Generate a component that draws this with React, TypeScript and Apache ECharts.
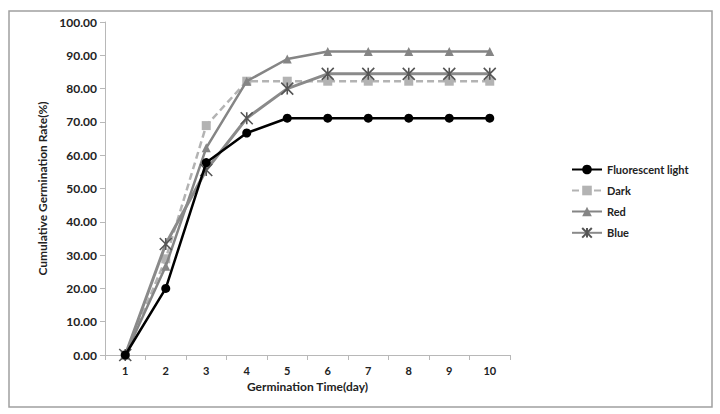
import React, { useEffect, useRef } from "react";
import * as echarts from "echarts";

const days = ["1", "2", "3", "4", "5", "6", "7", "8", "9", "10"];
const fluorescent = [0, 20.0, 57.78, 66.67, 71.11, 71.11, 71.11, 71.11, 71.11, 71.11];
const dark = [0, 28.89, 68.89, 82.22, 82.22, 82.22, 82.22, 82.22, 82.22, 82.22];
const red = [0, 26.67, 62.22, 82.22, 88.89, 91.11, 91.11, 91.11, 91.11, 91.11];
const blue = [0, 33.33, 55.56, 71.11, 80.0, 84.44, 84.44, 84.44, 84.44, 84.44];

const FONT = "Lato, 'Open Sans', sans-serif";
const asterisk = "path://M0,0L10,10M10,0L0,10M5,0L5,10";

export default function App() {
  const ref = useRef<HTMLDivElement>(null);
  useEffect(() => {
    if (!ref.current) return;
    const chart = echarts.init(ref.current, undefined, { renderer: "svg" });
    chart.setOption({
      animation: false,
      backgroundColor: "#ffffff",
      graphic: [
        {
          type: "rect",
          shape: { x: 9, y: 11, width: 703, height: 396 },
          style: { fill: "none", stroke: "#a0a0a0", lineWidth: 1.5 },
          z: -1,
        },
      ],
      grid: { left: 105, right: 210, top: 22, bottom: 59 },
      legend: {
        orient: "vertical",
        left: 566,
        top: 159,
        itemGap: 10,
        itemWidth: 30,
        itemHeight: 12,
        textStyle: { fontFamily: FONT, fontWeight: "bold", fontSize: 11, color: "#222" },
        data: ["Fluorescent light", "Dark", "Red", "Blue"],
      },
      xAxis: {
        type: "category",
        data: days,
        boundaryGap: true,
        name: "Germination Time(day)",
        nameLocation: "middle",
        nameGap: 25,
        nameTextStyle: { fontFamily: FONT, fontWeight: "bold", fontSize: 12, color: "#222" },
        axisLine: { lineStyle: { color: "#b8b8b8", width: 1 } },
        axisTick: { show: true, inside: false, length: 5, lineStyle: { color: "#b8b8b8" } },
        axisLabel: { fontFamily: FONT, fontWeight: "bold", fontSize: 11, color: "#222", margin: 10 },
        splitLine: { show: false },
      },
      yAxis: {
        type: "value",
        min: 0,
        max: 100,
        interval: 10,
        name: "Cumulative Germination Rate(%)",
        nameLocation: "middle",
        nameGap: 47,
        nameTextStyle: { fontFamily: FONT, fontWeight: "bold", fontSize: 12, color: "#222" },
        axisLine: { show: true, lineStyle: { color: "#b8b8b8", width: 1 } },
        axisTick: { show: true, length: 5, lineStyle: { color: "#b8b8b8" } },
        axisLabel: {
          fontFamily: FONT,
          fontWeight: "bold",
          fontSize: 12,
          color: "#222",
          margin: 8,
          formatter: (v: number) => v.toFixed(2),
        },
        splitLine: { show: false },
      },
      series: [
        {
          name: "Dark",
          type: "line",
          data: dark,
          symbol: "rect",
          symbolSize: 9,
          itemStyle: { color: "#b3b3b3" },
          lineStyle: { color: "#b3b3b3", width: 2.5, type: [7, 4] },
          z: 2,
        },
        {
          name: "Red",
          type: "line",
          data: red,
          symbol: "triangle",
          symbolSize: 9,
          itemStyle: { color: "#858585" },
          lineStyle: { color: "#858585", width: 2.5 },
          z: 3,
        },
        {
          name: "Blue",
          type: "line",
          data: blue,
          symbol: asterisk,
          symbolSize: 12,
          itemStyle: { color: "#555555", borderColor: "#555555", borderWidth: 1.6 },
          lineStyle: { color: "#8a8a8a", width: 3 },
          z: 4,
        },
        {
          name: "Fluorescent light",
          type: "line",
          data: fluorescent,
          symbol: "circle",
          symbolSize: 9,
          itemStyle: { color: "#000000" },
          lineStyle: { color: "#000000", width: 2.5 },
          z: 5,
        },
      ],
    });
    return () => chart.dispose();
  }, []);
  return (
    <div
      ref={ref}
      style={{ position: "fixed", left: 0, top: 0, width: 720, height: 414 }}
    />
  );
}
